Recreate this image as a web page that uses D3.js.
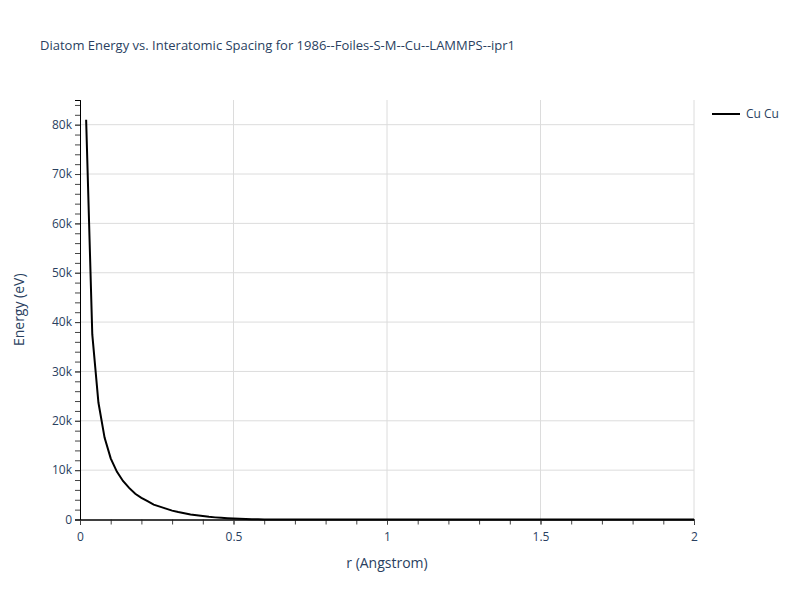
<!DOCTYPE html>
<html>
<head>
<meta charset="utf-8">
<script src="https://cdn.jsdelivr.net/npm/d3@7"></script>
<style>
  body { margin: 0; background: #fff; }
  text { font-family: "Open Sans", verdana, arial, sans-serif; fill: #2a3f5f; }
</style>
</head>
<body>
<div id="chart"></div>
<script>
// spacing in Angstrom and energy in eV
var r_vals = [0.02, 0.04, 0.06, 0.08, 0.10, 0.12, 0.14, 0.16, 0.18, 0.20,
              0.22, 0.24, 0.26, 0.28, 0.30, 0.32, 0.34, 0.36, 0.38, 0.40,
              0.42, 0.44, 0.46, 0.48, 0.50, 0.52, 0.54, 0.56, 0.58, 0.60,
              0.65, 0.70, 0.80, 0.90, 1.00, 1.20, 1.40, 1.60, 1.80, 2.00]
var e_vals = [81000, 37500, 23700, 16600, 12400, 9700, 7800, 6400, 5200, 4400,
              3700, 3000, 2600, 2200, 1800, 1500, 1250, 1000, 850, 700,
              550, 430, 330, 250, 180, 130, 90, 60, 40, 25,
              12, 6, 3, 1.5, 1, 0.5, 0.2, 0, -0.5, -1]
var series_name = "Cu Cu"
var x_ticks = [0, 0.5, 1, 1.5, 2]
var y_ticks = [0, 10000, 20000, 30000, 40000, 50000, 60000, 70000, 80000]

var W = 800, H = 600
var margin = {top: 100, right: 106, bottom: 80, left: 80}

var svg = d3.select("#chart").append("svg")
  .attr("width", W)
  .attr("height", H)

var x = d3.scaleLinear().domain([0, 2]).range([margin.left, W - margin.right])
var y = d3.scaleLinear().domain([0, 85000]).range([H - margin.bottom - 0.5, margin.top])

// grid lines
svg.append("g").selectAll("line")
  .data(y_ticks.slice(1))
  .enter().append("line")
    .attr("x1", x(0)).attr("x2", x(2))
    .attr("y1", function(d) { return y(d) }).attr("y2", function(d) { return y(d) })
    .attr("stroke", "#dcdcdc").attr("stroke-width", 1)

svg.append("g").selectAll("line")
  .data(x_ticks.slice(1))
  .enter().append("line")
    .attr("x1", function(d) { return x(d) }).attr("x2", function(d) { return x(d) })
    .attr("y1", y(0)).attr("y2", margin.top)
    .attr("stroke", "#dcdcdc").attr("stroke-width", 1)

// minor ticks (no labels)
var xMinor = svg.append("g")
  .attr("transform", "translate(0," + y(0) + ")")
  .call(d3.axisBottom(x).tickValues(d3.range(0, 2.01, 0.1)).tickSize(5).tickFormat(""))
var yMinor = svg.append("g")
  .attr("transform", "translate(" + x(0) + ",0)")
  .call(d3.axisLeft(y).tickValues(d3.range(0, 85001, 2000)).tickSize(5).tickFormat(""))

// labelled axes
var xAxis = svg.append("g")
  .attr("transform", "translate(0," + y(0) + ")")
  .call(d3.axisBottom(x).tickValues(x_ticks).tickSize(5).tickPadding(8)
    .tickFormat(function(d) { return d3.format("")(d) }))
var yAxis = svg.append("g")
  .attr("transform", "translate(" + x(0) + ",0)")
  .call(d3.axisLeft(y).tickValues(y_ticks).tickSize(5).tickPadding(3)
    .tickFormat(function(d) { return d === 0 ? "0" : (d / 1000) + "k" }))

svg.selectAll(".domain").attr("stroke", "#000")
svg.selectAll(".tick line").attr("stroke", "#444")
svg.selectAll(".tick text").style("font-size", "12px").attr("fill", "#2a3f5f")
svg.selectAll(".domain").attr("stroke-width", 1)

// the curve
var pts = r_vals.map(function(d, i) { return [d, e_vals[i]] })
svg.append("path")
  .datum(pts)
  .attr("fill", "none")
  .attr("stroke", "#000")
  .attr("stroke-width", 2)
  .attr("d", d3.line().x(function(d) { return x(d[0]) }).y(function(d) { return y(d[1]) }))

// title and axis titles
svg.append("text")
  .attr("x", 40).attr("y", 50)
  .style("font-size", "13px")
  .text("Diatom Energy vs. Interatomic Spacing for 1986--Foiles-S-M--Cu--LAMMPS--ipr1")

svg.append("text")
  .attr("x", (x(0) + x(2)) / 2).attr("y", 568)
  .attr("text-anchor", "middle")
  .style("font-size", "14px")
  .text("r (Angstrom)")

svg.append("text")
  .attr("transform", "translate(24," + ((y(0) + margin.top) / 2) + ") rotate(-90)")
  .attr("text-anchor", "middle")
  .style("font-size", "14px")
  .text("Energy (eV)")

// legend
svg.append("line")
  .attr("x1", 712).attr("x2", 740).attr("y1", 114).attr("y2", 114)
  .attr("stroke", "#000").attr("stroke-width", 2)
svg.append("text")
  .attr("x", 746).attr("y", 118)
  .style("font-size", "12px")
  .text(series_name)
</script>
</body>
</html>
